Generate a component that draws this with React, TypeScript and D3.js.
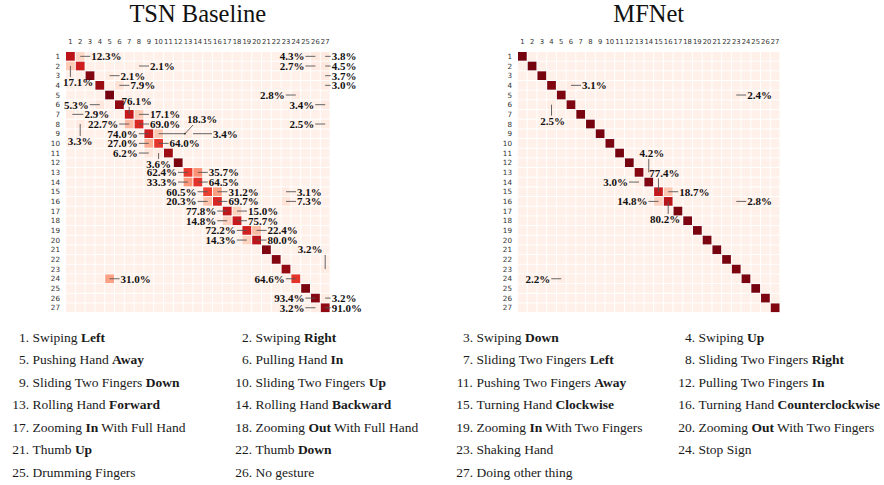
import React from 'react';
import * as d3 from 'd3';

// class ids along both axes
const tickLabels = ['1', '2', '3', '4', '5', '6', '7', '8', '9', '10', '11', '12', '13', '14', '15', '16', '17', '18', '19', '20', '21', '22', '23', '24', '25', '26', '27'];

// diagonal (per-class accuracy, %)
const tsnDiag = [79.6, 73.6, 94.2, 89.1, 97.2, 91.3, 76.1, 69.0, 74.0, 64.0, 88.0, 96.0, 62.4, 64.5, 60.5, 69.7, 77.8, 75.7, 72.2, 80.0, 95.0, 94.0, 90.0, 64.6, 95.5, 93.4, 91.0];
const mfnetDiag = [96.8, 97.1, 96.5, 94.5, 95.5, 95.0, 96.2, 97.0, 96.4, 95.8, 96.9, 97.3, 93.5, 95.0, 77.4, 80.2, 96.0, 95.7, 96.3, 95.9, 97.2, 96.6, 95.4, 96.1, 97.0, 95.8, 94.8];

// off-diagonal confusions [true row, predicted col, %]
const tsnOff: [number, number, number][] = [
  [1, 2, 12.3], [1, 26, 4.3], [1, 27, 3.8],
  [2, 1, 17.1], [2, 8, 2.1], [2, 26, 2.7], [2, 27, 4.5],
  [3, 5, 2.1], [3, 27, 3.7],
  [4, 6, 7.9], [4, 27, 3.0],
  [5, 24, 2.8],
  [6, 4, 5.3], [6, 27, 3.4],
  [7, 1, 2.9], [7, 8, 17.1],
  [8, 2, 3.3], [8, 7, 22.7], [8, 27, 2.5],
  [9, 10, 18.3], [9, 13, 3.4],
  [10, 9, 27.0],
  [11, 9, 6.2], [11, 10, 3.6],
  [13, 14, 35.7], [14, 13, 33.3],
  [15, 16, 31.2], [15, 23, 3.1],
  [16, 15, 20.3], [16, 23, 7.3],
  [17, 18, 15.0], [18, 17, 14.8],
  [19, 20, 22.4], [20, 19, 14.3],
  [23, 27, 3.2],
  [24, 5, 31.0],
  [26, 27, 3.2], [27, 26, 3.2],
];
const mfnetOff: [number, number, number][] = [
  [4, 6, 3.1], [5, 23, 2.4], [6, 4, 2.5],
  [13, 14, 4.2], [14, 13, 3.0],
  [15, 16, 18.7], [16, 15, 14.8], [16, 23, 2.8],
  [24, 5, 2.2],
];

// legend entries: [text, bold word, text]
const classNames: [string, string, string][] = [
  ['Swiping ', 'Left', ''], ['Swiping ', 'Right', ''], ['Swiping ', 'Down', ''], ['Swiping ', 'Up', ''],
  ['Pushing Hand ', 'Away', ''], ['Pulling Hand ', 'In', ''], ['Sliding Two Fingers ', 'Left', ''], ['Sliding Two Fingers ', 'Right', ''],
  ['Sliding Two Fingers ', 'Down', ''], ['Sliding Two Fingers ', 'Up', ''], ['Pushing Two Fingers ', 'Away', ''], ['Pulling Two Fingers ', 'In', ''],
  ['Rolling Hand ', 'Forward', ''], ['Rolling Hand ', 'Backward', ''], ['Turning Hand ', 'Clockwise', ''], ['Turning Hand ', 'Counterclockwise', ''],
  ['Zooming ', 'In', ' With Full Hand'], ['Zooming ', 'Out', ' With Full Hand'], ['Zooming ', 'In', ' With Two Fingers'], ['Zooming ', 'Out', ' With Two Fingers'],
  ['Thumb ', 'Up', ''], ['Thumb ', 'Down', ''], ['Shaking Hand', '', ''], ['Stop Sign', '', ''],
  ['Drumming Fingers', '', ''], ['No gesture', '', ''], ['Doing other thing', '', ''],
];

// where each printed percentage goes
type Note = { r: number; c: number; side: 'l' | 'r' | 'u' | 'd' | 'k'; len?: number; from?: number; dx?: number; dy?: number; ex?: number; ey?: number };

const tsnNotes: Note[] = [
  { r: 1, c: 2, side: 'r' }, { r: 1, c: 26, side: 'l' }, { r: 1, c: 27, side: 'r', len: 5.5 },
  { r: 2, c: 1, side: 'd', dy: 20, dx: 7.6 }, { r: 2, c: 8, side: 'r' }, { r: 2, c: 26, side: 'l' }, { r: 2, c: 27, side: 'r', len: 5.5 },
  { r: 3, c: 5, side: 'r' }, { r: 3, c: 27, side: 'r', len: 5.5 },
  { r: 4, c: 6, side: 'r' }, { r: 4, c: 27, side: 'r', len: 5.5 },
  { r: 5, c: 24, side: 'l' },
  { r: 6, c: 4, side: 'l' }, { r: 6, c: 27, side: 'l' },
  { r: 7, c: 7, side: 'u', dy: -9, dx: 7.5 }, { r: 7, c: 1, side: 'r', from: 2, len: 13 }, { r: 7, c: 8, side: 'r' },
  { r: 8, c: 7, side: 'l' }, { r: 8, c: 8, side: 'r' }, { r: 8, c: 2, side: 'd', dy: 21 }, { r: 8, c: 27, side: 'l' },
  { r: 9, c: 9, side: 'l' }, { r: 9, c: 10, side: 'k', len: 26.4, ex: 8, ey: -8.7 }, { r: 9, c: 13, side: 'r', from: 5, len: 24 },
  { r: 10, c: 9, side: 'l' }, { r: 10, c: 10, side: 'r' },
  { r: 11, c: 9, side: 'l' }, { r: 11, c: 10, side: 'd', dy: 15 },
  { r: 13, c: 13, side: 'l' }, { r: 13, c: 14, side: 'r' },
  { r: 14, c: 13, side: 'l' }, { r: 14, c: 14, side: 'r' },
  { r: 15, c: 15, side: 'l' }, { r: 15, c: 16, side: 'r' }, { r: 15, c: 23, side: 'r' },
  { r: 16, c: 15, side: 'l' }, { r: 16, c: 16, side: 'r' }, { r: 16, c: 23, side: 'r' },
  { r: 17, c: 17, side: 'l' }, { r: 17, c: 18, side: 'r' },
  { r: 18, c: 17, side: 'l' }, { r: 18, c: 18, side: 'r' },
  { r: 19, c: 19, side: 'l' }, { r: 19, c: 20, side: 'r' },
  { r: 20, c: 19, side: 'l' }, { r: 20, c: 20, side: 'r' },
  { r: 23, c: 27, side: 'u', dy: -15.7, dx: -15 },
  { r: 24, c: 5, side: 'r' }, { r: 24, c: 24, side: 'l' },
  { r: 26, c: 26, side: 'l' }, { r: 26, c: 27, side: 'r', len: 5.5 },
  { r: 27, c: 26, side: 'l' }, { r: 27, c: 27, side: 'r', len: 5.5 },
];
const mfnetNotes: Note[] = [
  { r: 4, c: 6, side: 'r' }, { r: 5, c: 23, side: 'r' }, { r: 6, c: 4, side: 'd', dy: 20, dx: 1 },
  { r: 13, c: 14, side: 'u', dy: -15, dx: 3 }, { r: 14, c: 13, side: 'l' },
  { r: 15, c: 15, side: 'u', dy: -14.8, dx: 6 }, { r: 15, c: 16, side: 'r' },
  { r: 16, c: 15, side: 'l' }, { r: 16, c: 16, side: 'd', dy: 21.5, dx: -3 }, { r: 16, c: 23, side: 'r' },
  { r: 24, c: 5, side: 'l' },
];

const serif = '"Liberation Serif", "Times New Roman", serif';
const sans = '"DejaVu Sans", sans-serif';
const color = d3.scaleSequential(d3.interpolateReds).domain([-3, 100]);

function Matrix({ title, x0, x1, diag, off, notes }: { title: string; x0: number; x1: number; diag: number[]; off: [number, number, number][]; notes: Note[] }) {
  const top = 51.5, bottom = 312.6;
  const x = d3.scaleBand<string>().domain(tickLabels).range([x0, x1]);
  const y = d3.scaleBand<string>().domain(tickLabels).range([top, bottom]);
  const bw = x.bandwidth(), bh = y.bandwidth();

  const value = new Map<string, number>();
  diag.forEach((v, i) => value.set(`${i + 1}-${i + 1}`, v));
  off.forEach(([r, c, v]) => value.set(`${r}-${c}`, v));

  const cells: { r: string; c: string; v: number }[] = [];
  tickLabels.forEach(r => tickLabels.forEach(c => cells.push({ r, c, v: value.get(`${r}-${c}`) ?? 0 })));

  const noteFont = { fontFamily: serif, fontWeight: 700, fontSize: 11, fill: '#111' } as const;
  const lineStyle = { stroke: '#555', strokeWidth: 0.9, fill: 'none' };

  return (
    <g>
      <text x={(x0 + x1) / 2} y={22} textAnchor="middle" fontFamily={serif} fontSize={24.5} fill="#111">{title}</text>
      {tickLabels.map(t => (
        <text key={'cx' + t} x={x(t)! + bw / 2} y={43.5} textAnchor="middle" fontFamily={sans} fontSize={6.8} fill="#333">{t}</text>
      ))}
      {tickLabels.map(t => (
        <text key={'ry' + t} x={x0 - 5.5} y={y(t)! + bh / 2 + 2.6} textAnchor="end" fontFamily={sans} fontSize={7.2} fill="#333">{t}</text>
      ))}
      {cells.map(d => (
        <rect key={d.r + '-' + d.c} x={x(d.c)! + 0.5} y={y(d.r)! + 0.5} width={bw - 1} height={bh - 1} fill={color(d.v)} />
      ))}
      {notes.map(n => {
        const cx = x(String(n.c))! + bw / 2;
        const cy = y(String(n.r))! + bh / 2;
        const label = `${(value.get(`${n.r}-${n.c}`) ?? 0).toFixed(1)}%`;
        const key = `n${n.r}-${n.c}`;
        if (n.side === 'r' || n.side === 'l') {
          const s = n.side === 'r' ? 1 : -1;
          const a = cx + s * (n.from ?? 0);
          const b = cx + s * (n.len ?? 10);
          return (
            <g key={key}>
              <line x1={a} y1={cy} x2={b} y2={cy} style={lineStyle} />
              <text x={b + s} y={cy + 4} textAnchor={s > 0 ? 'start' : 'end'} style={noteFont}>{label}</text>
            </g>
          );
        }
        if (n.side === 'd' || n.side === 'u') {
          const dy = n.dy ?? (n.side === 'd' ? 20 : -15);
          const end = n.side === 'd' ? cy + dy - 9 : cy + dy + 1.5;
          return (
            <g key={key}>
              <line x1={cx} y1={cy} x2={cx} y2={end} style={lineStyle} />
              <text x={cx + (n.dx ?? 0)} y={cy + dy} textAnchor="middle" style={noteFont}>{label}</text>
            </g>
          );
        }
        const kx = cx + (n.len ?? 20);
        const pts = [[cx, cy], [kx, cy], [kx + (n.ex ?? 0), cy + (n.ey ?? 0)]];
        return (
          <g key={key}>
            <path d={d3.line()(pts as [number, number][])!} style={lineStyle} />
            <circle cx={kx} cy={cy} r={0.9} fill="#333" />
            <text x={kx + 2} y={cy + (n.ey ?? 0) - 2} style={noteFont}>{label}</text>
          </g>
        );
      })}
    </g>
  );
}

function Legend() {
  const numEnd = [29, 252, 473, 695];
  const rowY = d3.scaleLinear().domain([0, 1]).range([341.7, 364.2]);
  return (
    <g fontFamily={serif} fontSize={13.5} fill="#1a1a1a" style={{ whiteSpace: 'pre' }}>
      {classNames.map(([a, b, c], i) => {
        const col = i % 4, row = Math.floor(i / 4);
        const yy = rowY(row);
        return (
          <g key={'lg' + i}>
            <text x={numEnd[col]} y={yy} textAnchor="end">{`${i + 1}.`}</text>
            <text x={numEnd[col] + 3.5} y={yy}>
              <tspan>{a}</tspan>
              {b && <tspan fontWeight={700}>{b}</tspan>}
              {c && <tspan>{c}</tspan>}
            </text>
          </g>
        );
      })}
    </g>
  );
}

export default function App() {
  return (
    <div style={{ position: 'absolute', left: 0, top: 0 }}>
      <svg width={884} height={485} style={{ display: 'block', background: '#fff' }}>
        <Matrix title="TSN Baseline" x0={65.5} x1={330.1} diag={tsnDiag} off={tsnOff} notes={tsnNotes} />
        <Matrix title="MFNet" x0={517.5} x1={780} diag={mfnetDiag} off={mfnetOff} notes={mfnetNotes} />
        <Legend />
      </svg>
    </div>
  );
}
